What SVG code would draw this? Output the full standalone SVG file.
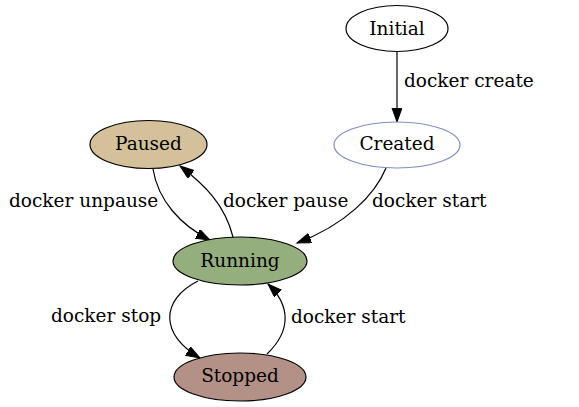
<svg xmlns="http://www.w3.org/2000/svg" width="579" height="407" viewBox="0 0 579 407">
<style>
text{font-family:"DejaVu Serif","Liberation Serif",serif;font-size:18.5px;fill:#000}
.n{stroke:#000;stroke-width:1.2}
.c{text-anchor:middle}
.e{fill:none;stroke:#000;stroke-width:1.2}
</style>
<defs>
<marker id="a" markerUnits="userSpaceOnUse" markerWidth="16" markerHeight="12" refX="14" refY="5" orient="auto" viewBox="0 0 16 12">
<path d="M0,0 L14,5 L0,10 Z" fill="#000" stroke="#000"/>
</marker>
</defs>
<rect width="579" height="407" fill="#fff"/>
<g id="edges">
<path class="e" d="M397,51 L397,122" marker-end="url(#a)"/>
<text x="404" y="87">docker create</text>
<path class="e" d="M386,168 C375,195 345,225 297,243" marker-end="url(#a)"/>
<text x="372" y="207">docker start</text>
<path class="e" d="M153,169 C158,200 180,225 210,240" marker-end="url(#a)"/>
<text x="9" y="207">docker unpause</text>
<path class="e" d="M233,237 C225,205 205,185 180,166" marker-end="url(#a)"/>
<text x="223" y="207">docker pause</text>
<path class="e" d="M198,281 C160,300 160,335 200,358" marker-end="url(#a)"/>
<text x="51" y="322">docker stop</text>
<path class="e" d="M267,354 C292,330 290,305 268,284" marker-end="url(#a)"/>
<text x="291" y="323">docker start</text>
</g>
<g id="initial"><ellipse class="n" cx="397" cy="28.5" rx="51" ry="23" fill="#fff"/><text class="c" x="397" y="34.5">Initial</text></g>
<g id="created"><ellipse cx="397" cy="145" rx="63" ry="23" fill="#fff" stroke="#7d8fc4" stroke-width="1.2"/><text class="c" x="397" y="150">Created</text></g>
<g id="paused"><ellipse class="n" cx="148.5" cy="144.5" rx="58.5" ry="24" fill="#d4c09b"/><text class="c" x="148.5" y="150">Paused</text></g>
<g id="running"><ellipse class="n" cx="240" cy="261" rx="67" ry="24" fill="#94ae7e"/><text class="c" x="240" y="267">Running</text></g>
<g id="stopped"><ellipse class="n" cx="240" cy="377" rx="66" ry="24" fill="#b39186"/><text class="c" x="240" y="382">Stopped</text></g>
</svg>
